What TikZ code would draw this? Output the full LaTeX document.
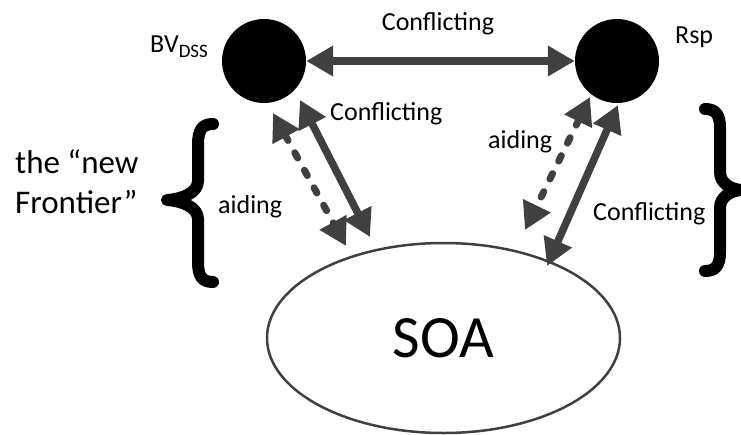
\documentclass[tikz,border=0pt]{standalone}
\usepackage{fontspec}
\setmainfont{Carlito}
\usetikzlibrary{arrows.meta,shapes.geometric}
\definecolor{arrgray}{HTML}{404040}
\begin{document}
\begin{tikzpicture}[x=1pt,y=-1pt,
  lbl/.style={font=\fontsize{26}{30}\selectfont, inner sep=0pt, text=black},
  biglbl/.style={font=\fontsize{33}{40}\selectfont, inner sep=0pt, text=black},
  dot/.style={circle, fill=black, minimum size=84pt, inner sep=0pt},
  tipshape/.style={},
  conflict/.style={draw=arrgray, line width=7.5pt,
    {Triangle[length=27pt,width=29pt]}-{Triangle[length=27pt,width=29pt]}},
  aid/.style={draw=arrgray, line width=7pt, line cap=round, dash pattern=on 6pt off 14pt,
    {Triangle[length=27pt,width=29pt]}-{Triangle[length=27pt,width=29pt]}},
  bracepath/.style={draw=black, line width=12pt, line cap=round, line join=round}
]
\useasboundingbox (0,0) rectangle (741,434);
\fill[white] (0,0) rectangle (741,434);

% nodes
\node[dot] (bv) at (264,61) {};
\node[dot] (rsp) at (617,61) {};
\node[ellipse, draw=arrgray, line width=2.5pt, minimum width=353pt, minimum height=190pt,
  inner sep=0pt, font=\fontsize{60}{60}\selectfont] (soa) at (443.5,338) {SOA};

% labels
\node[lbl, anchor=base west] (bvlbl) at (150,52) {BV\raisebox{-5pt}{\fontsize{19}{19}\selectfont DSS}};
\node[lbl, anchor=base west] (rsplbl) at (675,43) {Rsp};
\node[lbl, anchor=base] (ctop) at (438,30) {Conflicting};
\node[lbl, anchor=base west] (cleft) at (330,120) {Conflicting};
\node[lbl, anchor=base west] (aleft) at (218,213) {aiding};
\node[lbl, anchor=base west] (aright) at (488,148) {aiding};
\node[lbl, anchor=base west] (cright) at (593,220) {Conflicting};
\node[biglbl, anchor=base west] (fr1) at (15,173) {the “new};
\node[biglbl, anchor=base west] (fr2) at (15,213) {Frontier”};

% arrow end points
\coordinate (bvS) at (300,100);
\coordinate (soaS) at (370,237);
\coordinate (bvD) at (273,113);
\coordinate (soaD) at (346,246);
\coordinate (rspD) at (590,97);
\coordinate (soaRD) at (525,230);
\coordinate (rspS) at (618,105);
\coordinate (soaRS) at (547,266);

% connectors
\draw[conflict] (bv.east) -- (rsp.west);
\draw[conflict] (bvS) -- (soaS);
\draw[aid] (bvD) -- (soaD);
\draw[aid] (rspD) -- (soaRD);
\draw[conflict] (rspS) -- (soaRS);

% braces
\draw[bracepath] (213,124) .. controls (202,124) and (198,130) .. (198,145)
  -- (198,181) .. controls (198,193) and (182,199) .. (167,200)
  .. controls (182,201) and (198,207) .. (198,219)
  -- (198,262) .. controls (198,276) and (202,282) .. (213,282);
\draw[bracepath] (705,109) .. controls (716,109) and (720,115) .. (720,128)
  -- (720,172) .. controls (720,183) and (730,189) .. (741,190)
  .. controls (730,191) and (720,197) .. (720,208)
  -- (720,252) .. controls (720,265) and (716,271) .. (705,271);
\end{tikzpicture}
\end{document}
